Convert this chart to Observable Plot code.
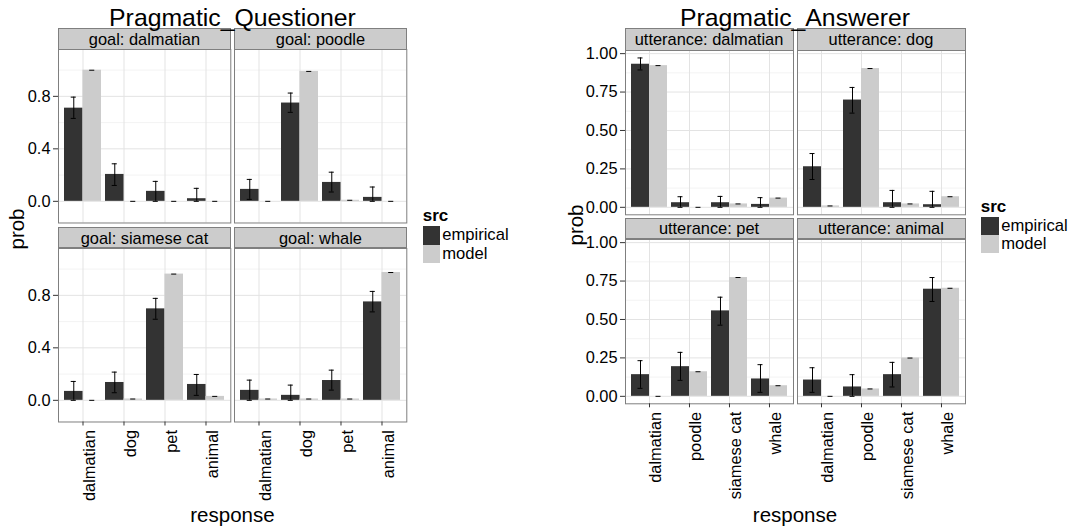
<!DOCTYPE html>
<html><head><meta charset="utf-8">
<script src="https://cdn.jsdelivr.net/npm/d3@7"></script>
<script src="https://cdn.jsdelivr.net/npm/@observablehq/plot@0.6"></script>
<style>
body{margin:0;background:#fff;}
#root{position:relative;width:1074px;height:531px;overflow:hidden;font-family:"Liberation Sans",Arial,sans-serif;color:#000;background:#fff;}
.t{position:absolute;white-space:nowrap;line-height:1;}
.strip{position:absolute;box-sizing:border-box;background:#cccccc;border:1px solid #7f7f7f;text-align:center;font-size:16.4px;white-space:nowrap;overflow:hidden;}
.key{position:absolute;}
</style>
</head><body><div id="root"></div>
<script>
// ---------- data ----------
const srcs = ["empirical", "model"];

// Pragmatic_Questioner
const qGoals = ["dalmatian", "poodle", "siamese cat", "whale"];
const qResponses = ["dalmatian", "dog", "pet", "animal"];
const qEmpirical = [
  [0.71, 0.205, 0.076, 0.02],
  [0.091, 0.749, 0.144, 0.03],
  [0.068, 0.136, 0.697, 0.121],
  [0.076, 0.038, 0.151, 0.75]
];
const qEmpLow = [
  [0.632, 0.121, 0.0, 0.0],
  [0.015, 0.678, 0.071, 0.0],
  [0.0, 0.058, 0.618, 0.038],
  [0.0, 0.0, 0.078, 0.674]
];
const qEmpHigh = [
  [0.794, 0.286, 0.152, 0.099],
  [0.167, 0.825, 0.222, 0.109],
  [0.144, 0.215, 0.777, 0.197],
  [0.154, 0.116, 0.23, 0.83]
];
const qModel = [
  [0.999, 0.0, 0.0, 0.0],
  [0.0, 0.99, 0.008, 0.0],
  [0.0, 0.01, 0.962, 0.03],
  [0.01, 0.01, 0.01, 0.974]
];
const qYTicks = [0, 0.4, 0.8];
const qYMinor = [0.2, 0.6, 1.0];
const qYDomain = [-0.165, 1.157];

// Pragmatic_Answerer
const aUtterances = ["dalmatian", "dog", "pet", "animal"];
const aResponses = ["dalmatian", "poodle", "siamese cat", "whale"];
const aEmpirical = [
  [0.931, 0.03, 0.03, 0.019],
  [0.264, 0.698, 0.03, 0.017],
  [0.141, 0.193, 0.556, 0.113],
  [0.106, 0.061, 0.141, 0.697]
];
const aEmpLow = [
  [0.894, 0.0, 0.0, 0.0],
  [0.181, 0.613, 0.0, 0.0],
  [0.052, 0.104, 0.463, 0.026],
  [0.026, 0.0, 0.061, 0.617]
];
const aEmpHigh = [
  [0.972, 0.069, 0.071, 0.063],
  [0.35, 0.78, 0.11, 0.104],
  [0.232, 0.286, 0.645, 0.206],
  [0.186, 0.141, 0.221, 0.773]
];
const aModel = [
  [0.922, 0.0, 0.022, 0.06],
  [0.009, 0.903, 0.022, 0.069],
  [0.0, 0.16, 0.773, 0.069],
  [0.0, 0.048, 0.249, 0.703]
];
const aYTicks = [0, 0.25, 0.5, 0.75, 1.0];
const aYMinor = [0.125, 0.375, 0.625, 0.875];
const aYDomain = [-0.0486, 1.0204];

// ---------- helpers ----------
const FONT = '"Liberation Sans", Arial, sans-serif';
const DARK = "#333333", LIGHT = "#cccccc";
const root = document.getElementById("root");

function rowsFor(responses, emp, lo, hi, mod) {
  const rows = [];
  responses.forEach((r, i) => {
    rows.push({response: r, src: "empirical", prob: emp[i], lo: lo[i], hi: hi[i]});
    rows.push({response: r, src: "model", prob: mod[i], lo: mod[i], hi: mod[i]});
  });
  return rows;
}

function addText(txt, css) {
  const d = document.createElement("div");
  d.className = "t";
  d.textContent = txt;
  Object.assign(d.style, css);
  root.appendChild(d);
  return d;
}

function panel(o) {
  const mL = o.showY ? 60 : 0, mB = o.showX ? 110 : 0;
  const step = o.w / (o.responses.length - 0.1 + 0.3);
  const bw = step * 0.9, cap = 2.5;
  const emp = o.rows.filter(d => d.src === "empirical");
  const mod = o.rows.filter(d => d.src === "model");
  const marks = [
    Plot.ruleY(o.yMinor, {stroke: "#f3f3f3", strokeWidth: 1}),
    Plot.gridY(o.yTicks, {stroke: "#e3e3e3", strokeOpacity: 1, strokeWidth: 1}),
    Plot.gridX(o.responses, {stroke: "#e3e3e3", strokeOpacity: 1, strokeWidth: 1}),
    Plot.barY(emp, {x: "response", y: "prob", fill: DARK, insetRight: bw / 2}),
    Plot.barY(mod, {x: "response", y: "prob", fill: LIGHT, insetLeft: bw / 2}),
    Plot.ruleX(emp, {x: "response", y1: "lo", y2: "hi", dx: -bw / 4, stroke: "#000", strokeWidth: 1}),
    Plot.tickY(emp, {x: "response", y: "lo", insetLeft: bw / 4 - cap, insetRight: 3 * bw / 4 - cap, stroke: "#000"}),
    Plot.tickY(emp, {x: "response", y: "hi", insetLeft: bw / 4 - cap, insetRight: 3 * bw / 4 - cap, stroke: "#000"}),
    Plot.tickY(mod, {x: "response", y: "hi", insetLeft: 3 * bw / 4 - cap, insetRight: bw / 4 - cap, stroke: "#000"}),
    Plot.frame({stroke: "#7f7f7f", strokeWidth: 1})
  ];
  if (o.showY) marks.push(Plot.axisY(o.yTicks, {label: null, tickFormat: d3.format(o.yFormat), tickSize: 5, tickPadding: 3, fontSize: 16.4, stroke: "#333", fill: "#000"}));
  if (o.showX) marks.push(Plot.axisX({label: null, tickSize: 4, tickRotate: -90, tickPadding: 4, lineAnchor: "top", fontSize: 16.4, stroke: "#333", fill: "#000"}));
  const svg = Plot.plot({
    width: mL + o.w, height: o.h + mB,
    marginLeft: mL, marginRight: 0, marginTop: 0, marginBottom: mB,
    x: {type: "band", domain: o.responses, paddingInner: 0.1, paddingOuter: 0.15, align: 0.5, axis: null, label: null},
    y: {domain: o.yDomain, axis: null, label: null},
    style: {fontFamily: FONT, fontSize: "16.4px", background: "transparent", overflow: "visible", color: "#000"},
    marks
  });
  svg.style.position = "absolute";
  svg.style.left = (o.left - mL) + "px";
  svg.style.top = o.top + "px";
  root.appendChild(svg);
  // strip
  const s = document.createElement("div");
  s.className = "strip";
  s.textContent = o.strip;
  Object.assign(s.style, {left: (o.left - 0.5) + "px", top: o.stripTop + "px", width: (o.w + 1) + "px", height: (o.top - o.stripTop + 0.5) + "px", lineHeight: (o.top - o.stripTop - 1) + "px"});
  root.appendChild(s);
}

function legend(x, titleBase, keyTop, keyW, keyH) {
  addText("src", {left: x + "px", top: (titleBase - 13.5) + "px", fontSize: "17px", fontWeight: "bold"});
  [DARK, LIGHT].forEach((c, i) => {
    const k = document.createElement("div");
    k.className = "key";
    Object.assign(k.style, {left: x + "px", top: (keyTop + i * keyH) + "px", width: keyW + "px", height: keyH + "px", background: c});
    root.appendChild(k);
    addText(srcs[i], {left: (x + keyW + 2) + "px", top: (keyTop + i * keyH + keyH / 2 - 9) + "px", fontSize: "16.6px", lineHeight: "18px"});
  });
}

function chart(cfg) {
  cfg.facets.forEach((f, i) => {
    const col = i % 2, row = Math.floor(i / 2);
    panel({
      rows: rowsFor(cfg.responses, cfg.emp[i], cfg.lo[i], cfg.hi[i], cfg.mod[i]),
      responses: cfg.responses,
      yDomain: cfg.yDomain, yTicks: cfg.yTicks, yMinor: cfg.yMinor, yFormat: cfg.yFormat,
      left: cfg.xs[col], w: cfg.w, top: cfg.ys[row], h: cfg.h, stripTop: cfg.stripTops[row],
      showY: col === 0, showX: row === 1,
      strip: cfg.prefix + ": " + f
    });
  });
  const cx = (cfg.xs[0] + cfg.xs[1] + cfg.w) / 2;
  addText(cfg.title, {left: cx + "px", top: "6px", fontSize: "24.8px", transform: "translateX(-50%)"});
  addText("response", {left: cx + "px", top: "505px", fontSize: "20.5px", transform: "translateX(-50%)"});
  addText("prob", {left: cfg.probX + "px", top: cfg.probY + "px", fontSize: "20.5px", transform: "translate(-50%,-50%) rotate(-90deg)"});
  legend(cfg.legX, cfg.legTitleBase, cfg.legKeyTop, cfg.legKeyW, cfg.legKeyH);
}

chart({
  title: "Pragmatic_Questioner", prefix: "goal", facets: qGoals, responses: qResponses,
  emp: qEmpirical, lo: qEmpLow, hi: qEmpHigh, mod: qModel,
  yDomain: qYDomain, yTicks: qYTicks, yMinor: qYMinor, yFormat: ".1f",
  xs: [58.3, 234.3], w: 172.3, ys: [49, 247.5], h: 173.5, stripTops: [28, 226.5],
  probX: 17, probY: 229, legX: 422.7, legTitleBase: 220.7, legKeyTop: 226, legKeyW: 17.5, legKeyH: 18.6
});
chart({
  title: "Pragmatic_Answerer", prefix: "utterance", facets: aUtterances, responses: aResponses,
  emp: aEmpirical, lo: aEmpLow, hi: aEmpHigh, mod: aModel,
  yDomain: aYDomain, yTicks: aYTicks, yMinor: aYMinor, yFormat: ".2f",
  xs: [625, 797], w: 168, ys: [50, 239], h: 164.3, stripTops: [28, 218.3],
  probX: 576, probY: 225, legX: 980.7, legTitleBase: 211.7, legKeyTop: 216.7, legKeyW: 18.6, legKeyH: 18.3
});
</script>
</body></html>
